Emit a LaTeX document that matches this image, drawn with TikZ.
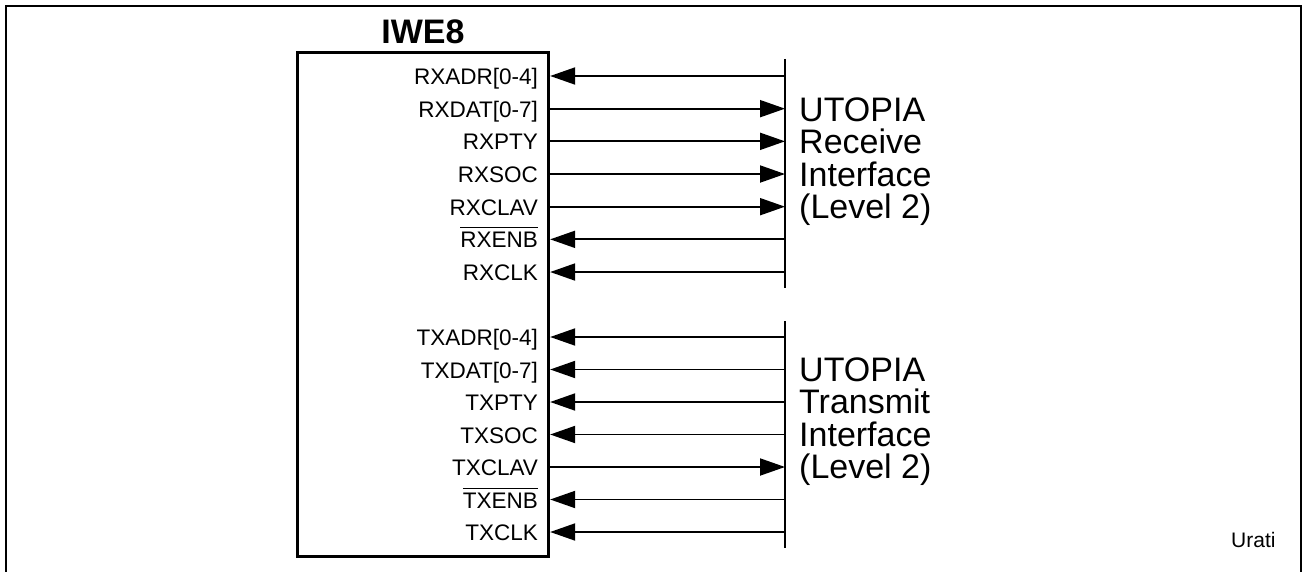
\documentclass[tikz,border=0pt]{standalone}
\usepackage{fontspec}
\setmainfont{Liberation Sans}
\usetikzlibrary{arrows.meta,positioning}
\newcommand{\nbar}[1]{\setbox0\hbox{#1}\rlap{\raisebox{\dimexpr\ht0+4pt\relax}{\rule{\wd0}{1pt}}}\box0}

\begin{document}
\begin{tikzpicture}[x=1pt, y=-1pt,
        frame/.style={line width=2pt},
        chip/.style={draw, line width=2.8pt, minimum width=251.5pt, minimum height=504.5pt, inner sep=0pt},
        title/.style={font=\fontsize{34}{36}\selectfont\bfseries, inner sep=0pt},
        pinlbl/.style={anchor=base east, inner sep=0pt, font=\fontsize{22.5}{24}\selectfont},
        iface/.style={anchor=west, align=left, inner sep=0pt, font=\fontsize{34}{32.5}\selectfont},
        tag/.style={anchor=base west, inner sep=0pt, font=\fontsize{21}{24}\selectfont},
        sig/.style={line width=1.9pt, >={Triangle[length=25pt,width=17pt]}},
        bus/.style={line width=1.6pt}
    ]
    \useasboundingbox (0,0) rectangle (1303,572);
    \draw[frame] (6,580) |- (1301,6.5) -- (1301,580);

    \node[chip] (iwe) at (423,304.5) {};
    \node[title, above=7pt of iwe] (iwetitle) {IWE8};

    \coordinate (rxtop) at (785,59);
    \coordinate (rxbot) at (785,288);
    \coordinate (txtop) at (785,321);
    \coordinate (txbot) at (785,548);
    \draw[bus] (rxtop) -- (rxbot);
    \draw[bus] (txtop) -- (txbot);

    \foreach \lbl/\dir [count=\i from 0] in {RXADR[0-4]/<-, RXDAT[0-7]/->, RXPTY/->, RXSOC/->, RXCLAV/->, {\nbar{RXENB}}/<-, RXCLK/<-} {
        \pgfmathsetmacro\yy{76+32.67*\i}
        \coordinate (rxp\i) at (iwe.east |- 0,\yy);
        \coordinate (rxb\i) at (rxtop |- rxp\i);
        \node[pinlbl] (rxl\i) at ([xshift=-12pt,yshift=-8.5pt]rxp\i) {\lbl};
        \draw[sig,\dir] (rxp\i) -- (rxb\i);
    }
    \foreach \lbl/\dir [count=\i from 0] in {TXADR[0-4]/<-, TXDAT[0-7]/<-, TXPTY/<-, TXSOC/<-, TXCLAV/->, {\nbar{TXENB}}/<-, TXCLK/<-} {
        \pgfmathsetmacro\yy{337+32.5*\i}
        \coordinate (txp\i) at (iwe.east |- 0,\yy);
        \coordinate (txb\i) at (txtop |- txp\i);
        \node[pinlbl] (txl\i) at ([xshift=-12pt,yshift=-8.5pt]txp\i) {\lbl};
        \draw[sig,\dir] (txp\i) -- (txb\i);
    }

    \node[iface] (rxif) at (799,161.5) {UTOPIA\\Receive\\Interface\\(Level 2)};
    \node[iface] (txif) at (799,421.5) {UTOPIA\\Transmit\\Interface\\(Level 2)};
    \node[tag] (urati) at (1231,547) {Urati};
\end{tikzpicture}
\end{document}
